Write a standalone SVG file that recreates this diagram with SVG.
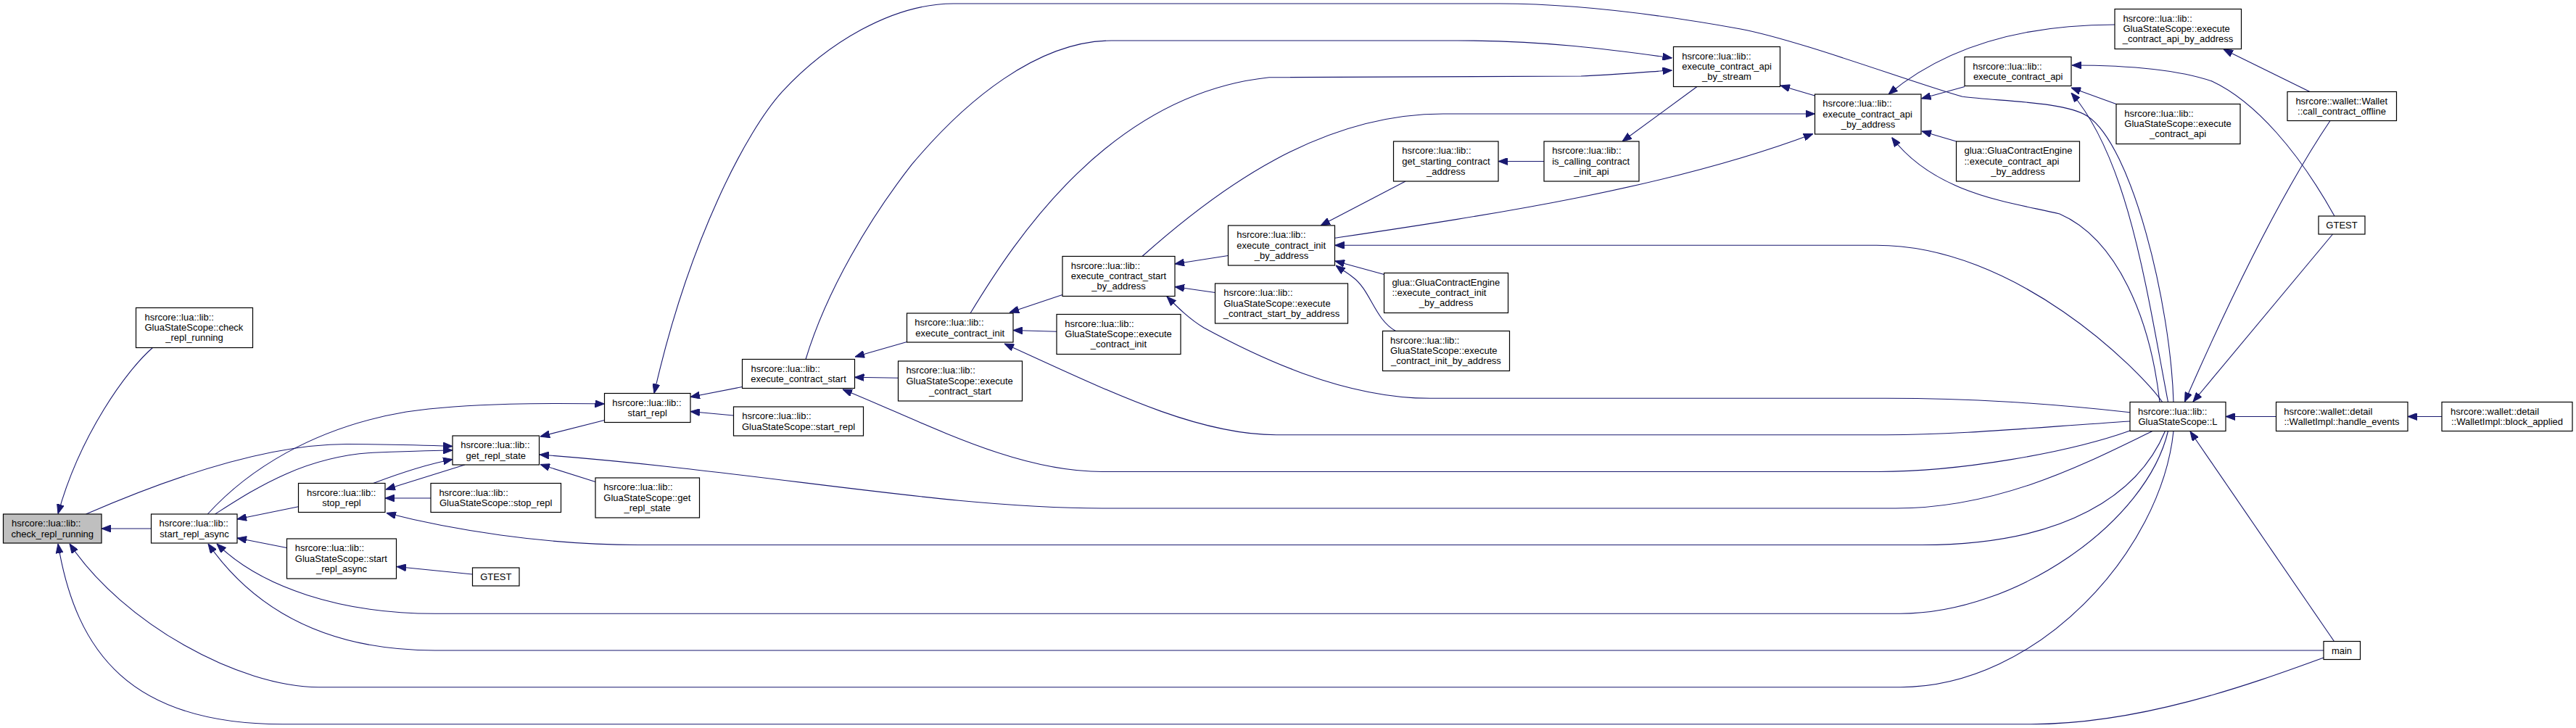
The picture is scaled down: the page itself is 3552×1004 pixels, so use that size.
<svg xmlns="http://www.w3.org/2000/svg" width="3552" height="1004" viewBox="0 0 3552 1004">
<style>
.node rect{fill:#ffffff;stroke:#000000;stroke-width:1.2}
.node.root rect{fill:#bfbfbf}
text{font-family:"Liberation Sans",Arial,sans-serif;font-size:13px;fill:#000000}
.l{text-anchor:start}
.c{text-anchor:middle}
#edges path{fill:none;stroke:#191970;stroke-width:1.1;marker-end:url(#arr)}
</style>
<defs>
<marker id="arr" markerUnits="userSpaceOnUse" markerWidth="13" markerHeight="10" viewBox="0 0 13 10" refX="13" refY="5" orient="auto">
<path d="M0,0 L13,5 L0,10 z" fill="#191970" stroke="#191970" stroke-width="1"/>
</marker>
</defs>
<rect x="0" y="0" width="3552" height="1004" fill="#ffffff"/>
<g id="edges">
<path d="M210.5,479.5 C175,510 110,600 80,708.5"/>
<path d="M208.5,729 L140,729"/>
<path d="M2997,594.5 C2980,760 2810,947.7 2620,947.7 L440,947.7 C330,947.7 170,860 96,750"/>
<path d="M3204,907 C3100,945 2950,998.7 2800,998.7 L390,998.7 C180,998.7 105,900 80,750"/>
<path d="M118.6,709 C250,652 380,612 480,612.5 C560,612.8 590,614 624,615.5"/>
<path d="M296.6,709 C350,675 420,628 520,624 C560,622.5 600,621 624,621"/>
<path d="M514.7,666.5 C545,655 590,640 624,633.5"/>
<path d="M286.3,709 C340,650 430,590 560,568 C650,555 760,556 833.5,557"/>
<path d="M411.5,698.7 L327,716"/>
<path d="M395.5,755.5 L327,742"/>
<path d="M3204,897 L600,897 C450,897 350,840 287,750"/>
<path d="M2989.5,594.5 C2960,720 2780,846.3 2620,846.3 L600,846.3 C470,846.3 360,810 299,750"/>
<path d="M641,641 L532,675"/>
<path d="M594,687 L531,687"/>
<path d="M2985.5,594.5 C2950,680 2850,751.5 2650,751.5 L880,751.5 C750,751.5 620,730 533,707.5"/>
<path d="M651.5,792 L547,781.5"/>
<path d="M833.5,579.5 L745,602"/>
<path d="M821,664.5 L745,640.5"/>
<path d="M2968,594.5 C2880,637 2760,701 2614,701 L1520,701 C1300,701 1050,650 744,627"/>
<path d="M1023.5,533.5 L952,547.5"/>
<path d="M1011.5,573 L952,567.5"/>
<path d="M2997,554.5 C2993,420 2940,200 2878,160 C2847,140 2760,140 2706,133.3 C2640,115 2480,55 2400,40 C2300,22 2180,5 2068,5 L1314.8,5 C1230,5 1140,60 1078.4,126.7 C1030,180 950,330 902,542.5"/>
<path d="M1250.5,471.5 L1179,492"/>
<path d="M1238.5,521.3 L1178.5,520.3"/>
<path d="M2937,594 C2850,625 2700,650.5 2590,650.5 L1520,650.5 C1400,650.5 1280,585 1162,537"/>
<path d="M1111,495.5 C1140,400 1200,300 1257.4,226.7 C1330,140 1430,56 1533,56 L2010,56 C2130,56 2220,68 2305.5,80"/>
<path d="M1465,406.5 L1392,431"/>
<path d="M1457,457.3 L1397,455.5"/>
<path d="M2937,581 C2800,590 2700,599.7 2600,599.7 L1760,599.7 C1650,599.7 1530,540 1385,474"/>
<path d="M1338,432 C1400,330 1530,130 1750,106.7 L2180,105 C2230,103 2270,99 2305.5,97"/>
<path d="M1693.5,352.5 L1620,364"/>
<path d="M1675.5,403.5 L1620,395.5"/>
<path d="M2937,568.7 C2820,556 2720,549.3 2600,549.3 L1972,549.3 C1850,549.3 1730,490 1660,452 C1640,440 1624,424 1609,409"/>
<path d="M1575,353.5 C1680,260 1820,157 1990,157 L2502.5,157"/>
<path d="M1938,250 L1821,311"/>
<path d="M1908.5,378.5 L1841,360"/>
<path d="M1924.5,456.5 C1895,440 1890,400 1865,382 C1858,376 1850,372 1842,366"/>
<path d="M2981.7,554.5 C2950,510 2780,338.3 2587.5,338.3 L1840.6,338.3"/>
<path d="M1840.6,328.3 C2050,297 2300,260 2500,184.5"/>
<path d="M2129,222.5 L2066,222.5"/>
<path d="M2340,119.5 L2237,195"/>
<path d="M2502.5,132 L2455,118"/>
<path d="M2709,119.5 L2649.5,136"/>
<path d="M2916,34 C2820,34 2700,50 2604,130"/>
<path d="M2697.5,195 L2650,181"/>
<path d="M2978,554.5 C2965,440 2920,330 2840,295 C2780,280 2670,270 2608.6,189.5"/>
<path d="M3219,298 C3170,210 3110,140 3050,112 C3000,95 2930,90 2857,90"/>
<path d="M2918,143.5 L2856,121"/>
<path d="M2989.5,554.5 C2960,400 2935,220 2856,128"/>
<path d="M3185,126.5 L3066,68"/>
<path d="M3213,166.5 C3150,260 3080,400 3012.5,554"/>
<path d="M3216.5,323 L3024,554"/>
<path d="M3138.5,574.5 L3069,574.5"/>
<path d="M3367,574.5 L3320,574.5"/>
<path d="M3218.5,884.5 L3020,595"/>
</g>
<g id="n_check" class="node root"><rect x="4.5" y="709" width="135.5" height="40"/><text class="l" x="16" y="726.3">hsrcore::lua::lib::</text><text class="c" x="72.3" y="740.6">check_repl_running</text></g>
<g id="n_gss_check" class="node"><rect x="187.5" y="424.5" width="161" height="55"/><text class="l" x="199.5" y="441.8">hsrcore::lua::lib::</text><text class="l" x="199.5" y="456.1">GluaStateScope::check</text><text class="c" x="268" y="470.4">_repl_running</text></g>
<g id="n_start_repl_async" class="node"><rect x="208.5" y="709" width="118.5" height="40"/><text class="l" x="219.5" y="726.3">hsrcore::lua::lib::</text><text class="c" x="268" y="740.6">start_repl_async</text></g>
<g id="n_stop_repl" class="node"><rect x="411.5" y="666.5" width="119.5" height="40"/><text class="l" x="423" y="683.8">hsrcore::lua::lib::</text><text class="c" x="471" y="698.1">stop_repl</text></g>
<g id="n_gss_start_repl_async" class="node"><rect x="395.5" y="743" width="151" height="55"/><text class="l" x="406.8" y="760.3">hsrcore::lua::lib::</text><text class="l" x="406.8" y="774.6">GluaStateScope::start</text><text class="c" x="471" y="788.9">_repl_async</text></g>
<g id="n_get_repl_state" class="node"><rect x="624" y="601" width="119.5" height="40"/><text class="l" x="635.2" y="618.3">hsrcore::lua::lib::</text><text class="c" x="683.8" y="632.6">get_repl_state</text></g>
<g id="n_gss_stop_repl" class="node"><rect x="594" y="666.5" width="179.5" height="40"/><text class="l" x="605.4" y="683.8">hsrcore::lua::lib::</text><text class="c" x="683.7" y="698.1">GluaStateScope::stop_repl</text></g>
<g id="n_gtest1" class="node"><rect x="651.5" y="783" width="64.5" height="25"/><text class="c" x="683.8" y="800">GTEST</text></g>
<g id="n_start_repl" class="node"><rect x="833.5" y="542.5" width="118.5" height="40"/><text class="l" x="844.2" y="559.8">hsrcore::lua::lib::</text><text class="c" x="892.7" y="574.1">start_repl</text></g>
<g id="n_gss_get_repl_state" class="node"><rect x="821" y="659" width="143.5" height="55"/><text class="l" x="832.3" y="676.3">hsrcore::lua::lib::</text><text class="l" x="832.3" y="690.6">GluaStateScope::get</text><text class="c" x="892.7" y="704.9">_repl_state</text></g>
<g id="n_execute_contract_start" class="node"><rect x="1023.5" y="495.5" width="155" height="40"/><text class="l" x="1035.5" y="512.8">hsrcore::lua::lib::</text><text class="c" x="1101" y="527.1">execute_contract_start</text></g>
<g id="n_gss_start_repl" class="node"><rect x="1011.5" y="561" width="179" height="40"/><text class="l" x="1023.3" y="578.3">hsrcore::lua::lib::</text><text class="c" x="1101" y="592.6">GluaStateScope::start_repl</text></g>
<g id="n_execute_contract_init" class="node"><rect x="1250.5" y="432" width="146.5" height="40"/><text class="l" x="1261.2" y="449.3">hsrcore::lua::lib::</text><text class="c" x="1323.8" y="463.6">execute_contract_init</text></g>
<g id="n_gss_execute_contract_start" class="node"><rect x="1238.5" y="498" width="171" height="55"/><text class="l" x="1249.4" y="515.3">hsrcore::lua::lib::</text><text class="l" x="1249.4" y="529.6">GluaStateScope::execute</text><text class="c" x="1324" y="543.9">_contract_start</text></g>
<g id="n_start_by_address" class="node"><rect x="1465" y="353.5" width="155" height="55"/><text class="l" x="1476.7" y="370.8">hsrcore::lua::lib::</text><text class="l" x="1476.7" y="385.1">execute_contract_start</text><text class="c" x="1542.5" y="399.4">_by_address</text></g>
<g id="n_gss_execute_contract_init" class="node"><rect x="1457" y="433.5" width="171" height="55"/><text class="l" x="1468.3" y="450.8">hsrcore::lua::lib::</text><text class="l" x="1468.3" y="465.1">GluaStateScope::execute</text><text class="c" x="1542.4" y="479.4">_contract_init</text></g>
<g id="n_init_by_address" class="node"><rect x="1693.5" y="311" width="147" height="55"/><text class="l" x="1705.2" y="328.3">hsrcore::lua::lib::</text><text class="l" x="1705.2" y="342.6">execute_contract_init</text><text class="c" x="1767" y="356.9">_by_address</text></g>
<g id="n_gss_start_by_address" class="node"><rect x="1675.5" y="391" width="183" height="55"/><text class="l" x="1687.2" y="408.3">hsrcore::lua::lib::</text><text class="l" x="1687.2" y="422.6">GluaStateScope::execute</text><text class="c" x="1767" y="436.9">_contract_start_by_address</text></g>
<g id="n_get_starting" class="node"><rect x="1921.5" y="195" width="144.5" height="55"/><text class="l" x="1933.2" y="212.3">hsrcore::lua::lib::</text><text class="l" x="1933.2" y="226.6">get_starting_contract</text><text class="c" x="1993.7" y="240.9">_address</text></g>
<g id="n_is_calling" class="node"><rect x="2129" y="195" width="131" height="55"/><text class="l" x="2140.2" y="212.3">hsrcore::lua::lib::</text><text class="l" x="2140.2" y="226.6">is_calling_contract</text><text class="c" x="2194.5" y="240.9">_init_api</text></g>
<g id="n_glua_init_by_address" class="node"><rect x="1908.5" y="376.5" width="171" height="55"/><text class="l" x="1919.4" y="393.8">glua::GluaContractEngine</text><text class="l" x="1919.4" y="408.1">::execute_contract_init</text><text class="c" x="1994" y="422.4">_by_address</text></g>
<g id="n_gss_init_by_address" class="node"><rect x="1906.5" y="456.5" width="175" height="55"/><text class="l" x="1917.1" y="473.8">hsrcore::lua::lib::</text><text class="l" x="1917.1" y="488.1">GluaStateScope::execute</text><text class="c" x="1994" y="502.4">_contract_init_by_address</text></g>
<g id="n_api_by_stream" class="node"><rect x="2307.5" y="64.5" width="147" height="55"/><text class="l" x="2319.3" y="81.8">hsrcore::lua::lib::</text><text class="l" x="2319.3" y="96.1">execute_contract_api</text><text class="c" x="2381" y="110.4">_by_stream</text></g>
<g id="n_api_by_address" class="node"><rect x="2502.5" y="130" width="146.5" height="55"/><text class="l" x="2513.3" y="147.3">hsrcore::lua::lib::</text><text class="l" x="2513.3" y="161.6">execute_contract_api</text><text class="c" x="2576" y="175.9">_by_address</text></g>
<g id="n_execute_contract_api" class="node"><rect x="2709" y="78.5" width="147" height="40"/><text class="l" x="2720.3" y="95.8">hsrcore::lua::lib::</text><text class="c" x="2782.7" y="110.1">execute_contract_api</text></g>
<g id="n_glua_api_by_address" class="node"><rect x="2697.5" y="195" width="170" height="55"/><text class="l" x="2708.5" y="212.3">glua::GluaContractEngine</text><text class="l" x="2708.5" y="226.6">::execute_contract_api</text><text class="c" x="2782.5" y="240.9">_by_address</text></g>
<g id="n_gss_api_by_address" class="node"><rect x="2916" y="12.5" width="174.5" height="55"/><text class="l" x="2927.4" y="29.8">hsrcore::lua::lib::</text><text class="l" x="2927.4" y="44.1">GluaStateScope::execute</text><text class="c" x="3003" y="58.4">_contract_api_by_address</text></g>
<g id="n_gss_execute_contract_api" class="node"><rect x="2918" y="143.5" width="171" height="55"/><text class="l" x="2929.3" y="160.8">hsrcore::lua::lib::</text><text class="l" x="2929.3" y="175.1">GluaStateScope::execute</text><text class="c" x="3003" y="189.4">_contract_api</text></g>
<g id="n_call_contract_offline" class="node"><rect x="3154" y="126.5" width="150.5" height="40"/><text class="l" x="3165.4" y="143.8">hsrcore::wallet::Wallet</text><text class="c" x="3229" y="158.1">::call_contract_offline</text></g>
<g id="n_gtest2" class="node"><rect x="3197" y="298" width="64" height="25"/><text class="c" x="3229" y="315">GTEST</text></g>
<g id="n_L" class="node"><rect x="2937" y="554.5" width="132" height="40"/><text class="l" x="2948" y="571.8">hsrcore::lua::lib::</text><text class="c" x="3003" y="586.1">GluaStateScope::L</text></g>
<g id="n_handle_events" class="node"><rect x="3138.5" y="554.5" width="181.5" height="40"/><text class="l" x="3149.2" y="571.8">hsrcore::wallet::detail</text><text class="c" x="3229" y="586.1">::WalletImpl::handle_events</text></g>
<g id="n_block_applied" class="node"><rect x="3367" y="554.5" width="180" height="40"/><text class="l" x="3379" y="571.8">hsrcore::wallet::detail</text><text class="c" x="3457" y="586.1">::WalletImpl::block_applied</text></g>
<g id="n_main" class="node"><rect x="3204" y="884.5" width="50.5" height="25"/><text class="c" x="3229" y="901.5">main</text></g>
</svg>
